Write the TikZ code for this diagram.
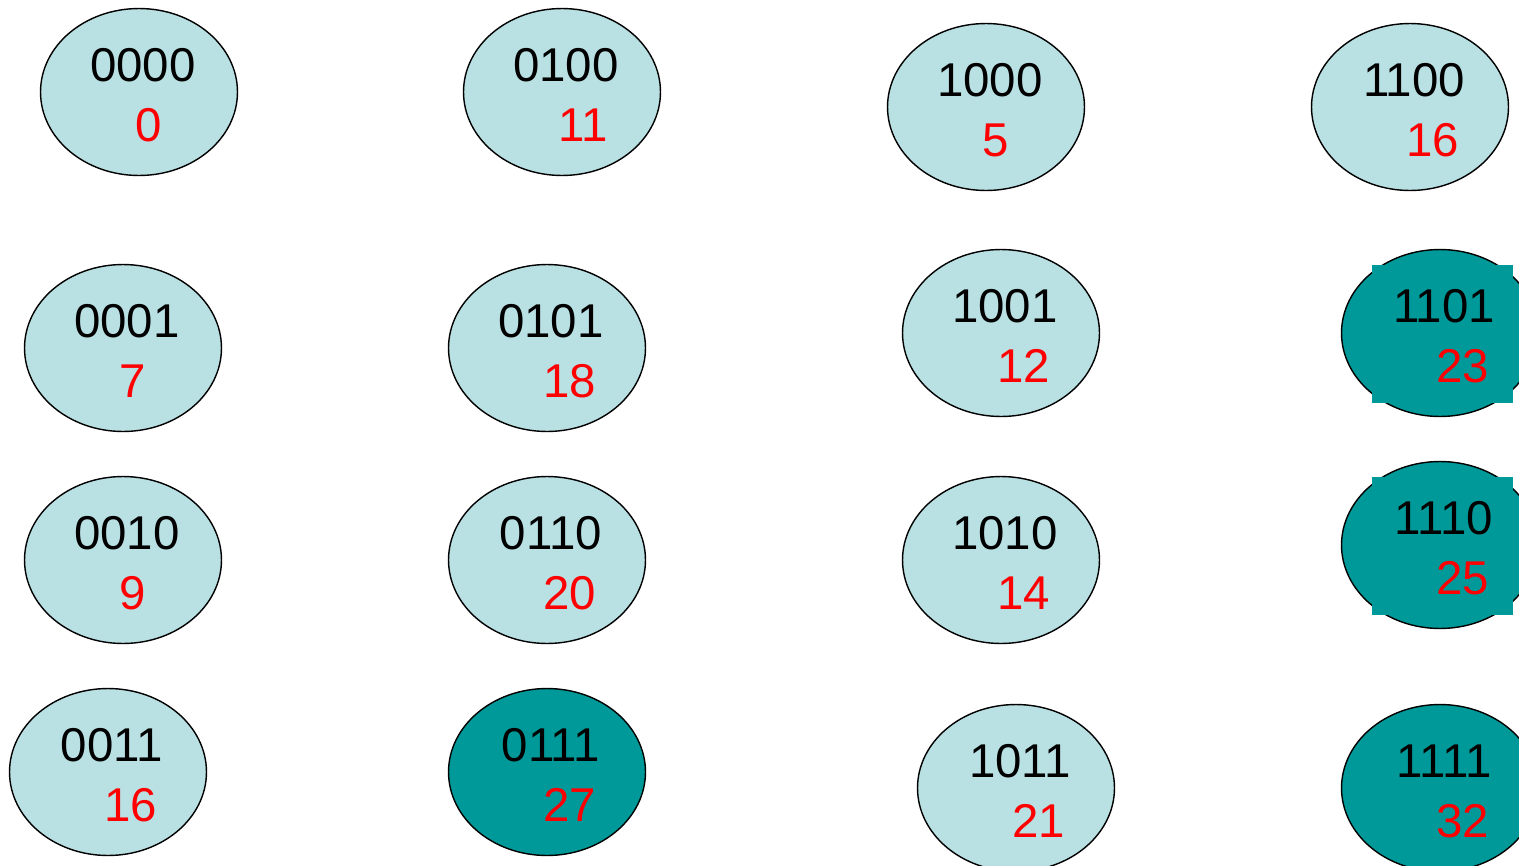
\documentclass[tikz,border=0pt]{standalone}
\usepackage{fontspec}
\setmainfont{Liberation Sans}
\usetikzlibrary{shapes.geometric,calc}

\definecolor{lightcell}{RGB}{185,224,227}
\definecolor{darkcell}{RGB}{0,153,153}

\tikzset{
  cell/.style={ellipse, draw, line width=0.8pt, inner sep=0pt,
    minimum width=3.94cm, minimum height=3.34cm},
  bits/.style={anchor=base, inner sep=0pt, font=\fontsize{27}{32}\selectfont},
  num/.style={anchor=base west, inner sep=0pt, text=red, font=\fontsize{27}{32}\selectfont}
}

% name, x, y, bit string, value, fill colour
\newcommand{\bitnode}[6]{
  \node (#1) [cell, fill=#6] at (#2,#3) {};
  \node (#1-bits) [bits] at ($(#1.center)+(4,-11)$) {#4};
  \node (#1-num) [num] at ($(#1.center)+(-4,49)$) {#5};
}

\begin{document}
\begin{tikzpicture}[x=0.02cm, y=-0.02cm]
\useasboundingbox (0,0) rectangle (1519,866);

\bitnode{s0000}{139}{92}{0000}{0}{lightcell}
\bitnode{s0001}{123}{348}{0001}{7}{lightcell}
\bitnode{s0010}{123}{560}{0010}{9}{lightcell}
\bitnode{s0011}{108}{772}{0011}{16}{lightcell}

\bitnode{s0100}{562}{92}{0100}{11}{lightcell}
\bitnode{s0101}{547}{348}{0101}{18}{lightcell}
\bitnode{s0110}{547}{560}{0110}{20}{lightcell}
\bitnode{s0111}{547}{772}{0111}{27}{darkcell}

\bitnode{s1000}{986}{107}{1000}{5}{lightcell}
\bitnode{s1001}{1001}{333}{1001}{12}{lightcell}
\bitnode{s1010}{1001}{560}{1010}{14}{lightcell}
\bitnode{s1011}{1016}{788}{1011}{21}{lightcell}

\bitnode{s1100}{1410}{107}{1100}{16}{lightcell}
\node (s1101) [cell, fill=darkcell] at (1440,333) {};
\fill [darkcell] (1372,265) rectangle (1513,403);
\node (s1101-bits) [bits] at ($(s1101.center)+(4,-11)$) {1101};
\node (s1101-num) [num] at ($(s1101.center)+(-4,49)$) {23};
\node (s1110) [cell, fill=darkcell] at (1440,545) {};
\fill [darkcell] (1372,477) rectangle (1513,615);
\node (s1110-bits) [bits] at ($(s1110.center)+(4,-11)$) {1110};
\node (s1110-num) [num] at ($(s1110.center)+(-4,49)$) {25};
\bitnode{s1111}{1440}{788}{1111}{32}{darkcell}
\end{tikzpicture}
\end{document}
